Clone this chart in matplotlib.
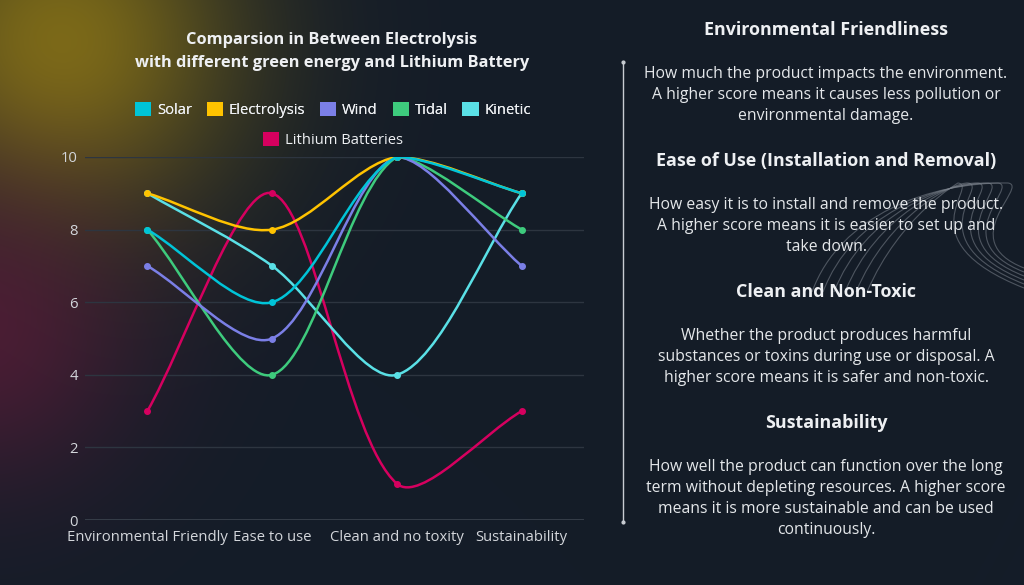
import numpy as np
import matplotlib
matplotlib.use('Agg')
import matplotlib.pyplot as plt
from matplotlib.path import Path
from matplotlib.patches import PathPatch, Patch

categories = ["Environmental Friendly", "Ease to use", "Clean and no toxity", "Sustainability"]
series_names = ["Solar", "Electrolysis", "Wind", "Tidal", "Kinetic", "Lithium Batteries"]
solar = [8, 6, 10, 9]
electrolysis = [9, 8, 10, 9]
wind = [7, 5, 10, 7]
tidal = [8, 4, 10, 8]
kinetic = [9, 7, 4, 9]
lithium = [3, 9, 1, 3]
colors = ["#00c4d8", "#ffc300", "#7b7fe6", "#3ecb7d", "#5ae0e6", "#d6005f"]
yticks = [0, 2, 4, 6, 8, 10]

sections = [
    ("Environmental Friendliness",
     ["How much the product impacts the environment.",
      "A higher score means it causes less pollution or",
      "environmental damage."]),
    ("Ease of Use (Installation and Removal)",
     ["How easy it is to install and remove the product.",
      "A higher score means it is easier to set up and",
      "take down."]),
    ("Clean and Non-Toxic",
     ["Whether the product produces harmful",
      "substances or toxins during use or disposal. A",
      "higher score means it is safer and non-toxic."]),
    ("Sustainability",
     ["How well the product can function over the long",
      "term without depleting resources. A higher score",
      "means it is more sustainable and can be used",
      "continuously."]),
]

BG = "#141c28"
TXT = "#eef0f3"
plt.rcParams['font.family'] = ['Open Sans', 'DejaVu Sans']

W, H = 1024, 585
fig = plt.figure(figsize=(W / 100, H / 100), dpi=100)
fig.patch.set_facecolor(BG)

# background with soft glows
bg = fig.add_axes([0, 0, 1, 1], zorder=-10)
yy, xx = np.mgrid[0:H, 0:W]
base = np.array([0x14, 0x1c, 0x28], float) / 255
img = np.ones((H, W, 3)) * base
g1 = np.exp(-(((xx - 60) ** 2 + (yy - 45) ** 2) / (2 * 125.0 ** 2)))
g2 = np.exp(-(((xx + 20) ** 2 + (yy - 330) ** 2) / (2 * 110.0 ** 2)))
c1 = np.array([0x7c, 0x6a, 0x18], float) / 255
c2 = np.array([0x5a, 0x1c, 0x38], float) / 255
img = img * (1 - g1[..., None]) + c1 * g1[..., None]
img = img * (1 - 0.75 * g2[..., None]) + c2 * 0.75 * g2[..., None]
bg.imshow(img, extent=[0, W, H, 0], aspect='auto')
bg.set_xlim(0, W)
bg.set_ylim(H, 0)
bg.axis('off')

# decorative swoosh lines behind the text
for i in range(6):
    x0 = 812 + i * 11
    top = 1008 - i * 10
    verts = [(x0, 292), (840 + i * 12, 215), (930 + i * 6, 182), (top, 183),
             (top + 22, 186), (top - 55, 240), (1024, 268 + i * 4)]
    codes = [Path.MOVETO] + [Path.CURVE4] * 6
    bg.add_patch(PathPatch(Path(verts, codes), facecolor='none',
                           edgecolor="#7d848e", lw=0.8, alpha=0.55))

ax = fig.add_axes([85 / W, 1 - 520 / H, (584 - 85) / W, (520 - 157) / H])
ax.set_facecolor('none')
ax.set_xlim(-0.5, 3.5)
ax.set_ylim(0, 10)

sx, sy = 125.0, 36.3
tension = 0.3


def bezier_path(xs, ys):
    n = len(xs)
    px = np.array(xs, float) * sx
    py = np.array(ys, float) * sy
    prev_cp, next_cp = [], []
    for i in range(n):
        a = max(i - 1, 0)
        b = min(i + 1, n - 1)
        d01 = np.hypot(px[i] - px[a], py[i] - py[a])
        d12 = np.hypot(px[b] - px[i], py[b] - py[i])
        tot = d01 + d12
        s01 = d01 / tot if tot else 0
        s12 = d12 / tot if tot else 0
        fa, fb = tension * s01, tension * s12
        dx, dy = px[b] - px[a], py[b] - py[a]
        prev_cp.append((px[i] - fa * dx, np.clip(py[i] - fa * dy, 0, 10 * sy)))
        next_cp.append((px[i] + fb * dx, np.clip(py[i] + fb * dy, 0, 10 * sy)))
    verts = [(px[0], py[0])]
    codes = [Path.MOVETO]
    for i in range(n - 1):
        verts += [next_cp[i], prev_cp[i + 1], (px[i + 1], py[i + 1])]
        codes += [Path.CURVE4] * 3
    verts = [(v[0] / sx, v[1] / sy) for v in verts]
    return Path(verts, codes)


data = [solar, electrolysis, wind, tidal, kinetic, lithium]
x = np.arange(len(categories))
for k in range(len(data) - 1, -1, -1):
    p = PathPatch(bezier_path(x, data[k]), facecolor='none', edgecolor=colors[k],
                  lw=1.8, zorder=3 + (len(data) - k) * 0.1)
    ax.add_patch(p)
    ax.plot(x, data[k], 'o', color=colors[k], ms=4, zorder=4)

ax.set_yticks(yticks)
ax.set_xticks(x)
ax.set_xticklabels(categories)
ax.grid(axis='y', color="#2d3540", lw=1)
ax.set_axisbelow(True)
for s in ax.spines.values():
    s.set_visible(False)
ax.axhline(0, color="#3a424d", lw=1.2, zorder=1)
ax.tick_params(length=0, colors="#d3d6db", labelsize=10.7, pad=5)
ax.tick_params(axis='x', pad=7)

fig.text(332 / W, 1 - 40 / H, "Comparsion in Between Electrolysis", ha='center', va='center',
         color=TXT, fontsize=11.8, fontweight='bold')
fig.text(332 / W, 1 - 63 / H, "with different green energy and Lithium Battery", ha='center',
         va='center', color=TXT, fontsize=11.8, fontweight='bold')

handles = [Patch(facecolor=c, edgecolor='none') for c in colors]
leg1 = fig.legend(handles[:5], series_names[:5], loc='center', bbox_to_anchor=(333 / W, 1 - 110 / H),
                  ncol=5, frameon=False, handlelength=1.1, handleheight=1.1, handletextpad=0.4,
                  columnspacing=1.0, labelcolor=TXT, fontsize=10.6)
leg2 = fig.legend(handles[5:], series_names[5:], loc='center', bbox_to_anchor=(333 / W, 1 - 140 / H),
                  ncol=1, frameon=False, handlelength=1.1, handleheight=1.1, handletextpad=0.4,
                  labelcolor=TXT, fontsize=10.6)
fig.add_artist(leg1)

# divider line
bg.plot([623, 623], [62, 522], color="#c8ccd2", lw=1)
bg.plot([623, 623], [62, 522], 'o', color="#c8ccd2", ms=2)

head_y = [30, 161, 292, 423]
for (head, lines), y0 in zip(sections, head_y):
    fig.text(826 / W, 1 - y0 / H, head, ha='center', va='center', color=TXT,
             fontsize=12.9, fontweight='bold')
    for j, line in enumerate(lines):
        fig.text(826 / W, 1 - (y0 + 44 + 21 * j) / H, line, ha='center', va='center',
                 color="#e4e7ea", fontsize=11.3)

fig.savefig("out.png", dpi=100, facecolor=BG)
